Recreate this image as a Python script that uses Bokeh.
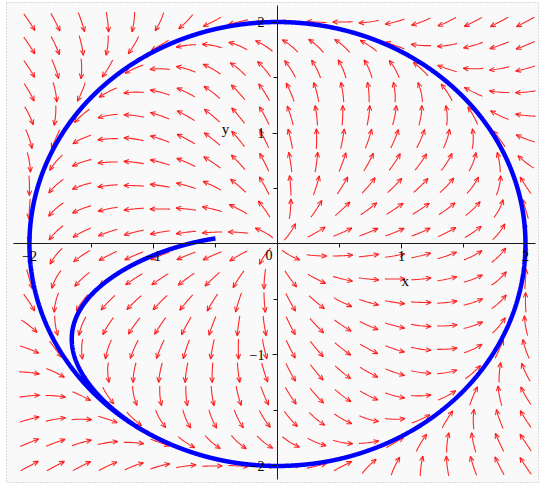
import numpy as np
from bokeh.plotting import figure
from bokeh.models import FixedTicker, Range1d
from bokeh.core.properties import value
from bokeh.embed import file_html
from bokeh.resources import INLINE

# Planar system with a stable limit cycle on the circle x^2 + y^2 = 4:
#   dx/dt = -w*y + x*(R2 - x^2 - y^2)
#   dy/dt =  w*x + y*(R2 - x^2 - y^2)
R2 = 4.0
W = 1.0

# direction-field grid (20 x 20 arrows)
grid_x = np.linspace(-2.0, 2.0, 20)
grid_y = np.linspace(-2.0, 2.0, 20)

# initial condition and time span of the solution curve
init_x = -0.5
init_y = 0.05
t_end = 8.0

# axis ticks
x_major = [-2, -1, 1, 2]
x_minor = [-1.5, -0.5, 0.5, 1.5]
y_major = [-2, -1, 1, 2]
y_minor = [-1.5, -0.5, 0.5, 1.5]
x_tick_text = {-2: "\u22122", -1: "\u22121", 1: "1", 2: "2"}
y_tick_text = {-2: "\u22122", -1: "\u22121", 1: "1", 2: "2"}

W_PX, H_PX = 542, 487
B_LEFT, B_RIGHT, B_TOP, B_BOTTOM = 6, 4, 2, 5
X_RANGE = (-2.185, 2.105)
Y_RANGE = (-2.149, 2.176)


def field(x, y):
    s = R2 - x * x - y * y
    return -W * y + x * s, W * x + y * s


def solve(x, y, t1, dt=0.002):
    xs, ys = [x], [y]
    for _ in range(int(round(t1 / dt))):
        k1 = field(x, y)
        k2 = field(x + 0.5 * dt * k1[0], y + 0.5 * dt * k1[1])
        k3 = field(x + 0.5 * dt * k2[0], y + 0.5 * dt * k2[1])
        k4 = field(x + dt * k3[0], y + dt * k3[1])
        x += dt / 6 * (k1[0] + 2 * k2[0] + 2 * k3[0] + k4[0])
        y += dt / 6 * (k1[1] + 2 * k2[1] + 2 * k3[1] + k4[1])
        xs.append(x)
        ys.append(y)
    return xs, ys


p = figure(width=W_PX, height=H_PX, output_backend="svg", toolbar_location=None,
           x_range=Range1d(*X_RANGE), y_range=Range1d(*Y_RANGE),
           min_border_left=B_LEFT, min_border_right=B_RIGHT,
           min_border_top=B_TOP, min_border_bottom=B_BOTTOM)
p.background_fill_color = "#f9f9f9"
p.border_fill_color = "white"
p.outline_line_color = "#b8b8b8"
p.outline_line_dash = "1 2"
p.grid.visible = False

# pixels per data unit, used to keep arrows the same on-screen length
sx = (W_PX - B_LEFT - B_RIGHT) / (X_RANGE[1] - X_RANGE[0])
sy = (H_PX - B_TOP - B_BOTTOM) / (Y_RANGE[1] - Y_RANGE[0])


def screen_dir(px, py):
    u, v = field(px / sx, py / sy)
    U, V = u * sx, v * sy
    n = np.hypot(U, V)
    return U / n, V / n


def trace(px, py, length, sign, n=6):
    h = length / n
    pts = []
    for _ in range(n):
        d1 = screen_dir(px, py)
        mx, my = px + sign * 0.5 * h * d1[0], py + sign * 0.5 * h * d1[1]
        d2 = screen_dir(mx, my)
        px, py = px + sign * h * d2[0], py + sign * h * d2[1]
        pts.append((px, py))
    return pts


ARROW_LEN = 20.0
HEAD_LEN = 5.5
HEAD_ANG = np.radians(24)

shaft_xs, shaft_ys, head_xs, head_ys = [], [], [], []
for gx in grid_x:
    for gy in grid_y:
        P = (gx * sx, gy * sy)
        back = trace(P[0], P[1], ARROW_LEN / 2, -1)[::-1]
        fwd = trace(P[0], P[1], ARROW_LEN / 2, 1)
        pts = back + [P] + fwd
        shaft_xs.append([q[0] / sx for q in pts])
        shaft_ys.append([q[1] / sy for q in pts])
        tx, ty = pts[-1]
        dx, dy = tx - pts[-2][0], ty - pts[-2][1]
        dn = np.hypot(dx, dy)
        dx, dy = dx / dn, dy / dn
        hx, hy = [], []
        for a in (HEAD_ANG, -HEAD_ANG):
            c, s = np.cos(a), np.sin(a)
            bx = tx - HEAD_LEN * (c * dx - s * dy)
            by = ty - HEAD_LEN * (s * dx + c * dy)
            hx.append(bx / sx)
            hy.append(by / sy)
        head_xs.append([hx[0], tx / sx, hx[1]])
        head_ys.append([hy[0], ty / sy, hy[1]])

p.multi_line(shaft_xs, shaft_ys, line_color="#ff1010", line_width=1.1, line_alpha=0.9)
p.multi_line(head_xs, head_ys, line_color="#ff1010", line_width=1.1, line_alpha=0.9)

# solution curve
cx, cy = solve(init_x, init_y, t_end)
p.line(cx, cy, line_color="#0000ff", line_width=4.5)

# axes through the origin
for ax in (p.xaxis[0], p.yaxis[0]):
    ax.fixed_location = 0
    ax.axis_line_color = "#1a1a1a"
    ax.axis_line_width = 1
    ax.major_tick_line_color = "#1a1a1a"
    ax.minor_tick_line_color = "#1a1a1a"
    ax.major_tick_in = 0
    ax.minor_tick_in = 0
    ax.major_tick_out = 5
    ax.minor_tick_out = 4
    ax.major_label_text_font = "Liberation Serif"
    ax.major_label_text_font_size = "14px"
    ax.major_label_text_color = "black"

p.xaxis.ticker = FixedTicker(ticks=x_major, minor_ticks=x_minor)
p.yaxis.ticker = FixedTicker(ticks=y_major, minor_ticks=y_minor)
p.xaxis.major_label_overrides = x_tick_text
p.yaxis.major_label_overrides = y_tick_text
p.xaxis.bounds = (-2.13, 2.08)
p.yaxis.bounds = (-2.12, 2.15)
p.xaxis.major_label_standoff = 2
p.yaxis.major_label_standoff = 8

# origin label and axis names
p.text(x=[0], y=[0], text=["0"], text_font=value("Liberation Serif"),
       text_font_size="14px", text_align="right", text_baseline="top",
       x_offset=-5, y_offset=6, text_color="black")
p.text(x=[1.03, -0.42], y=[-0.33, 1.04], text=["x", "y"],
       text_font=value("Liberation Serif"), text_font_size="15px",
       text_align="center", text_baseline="middle", text_color="black")

open("out.html", "w").write(file_html(p, INLINE))
